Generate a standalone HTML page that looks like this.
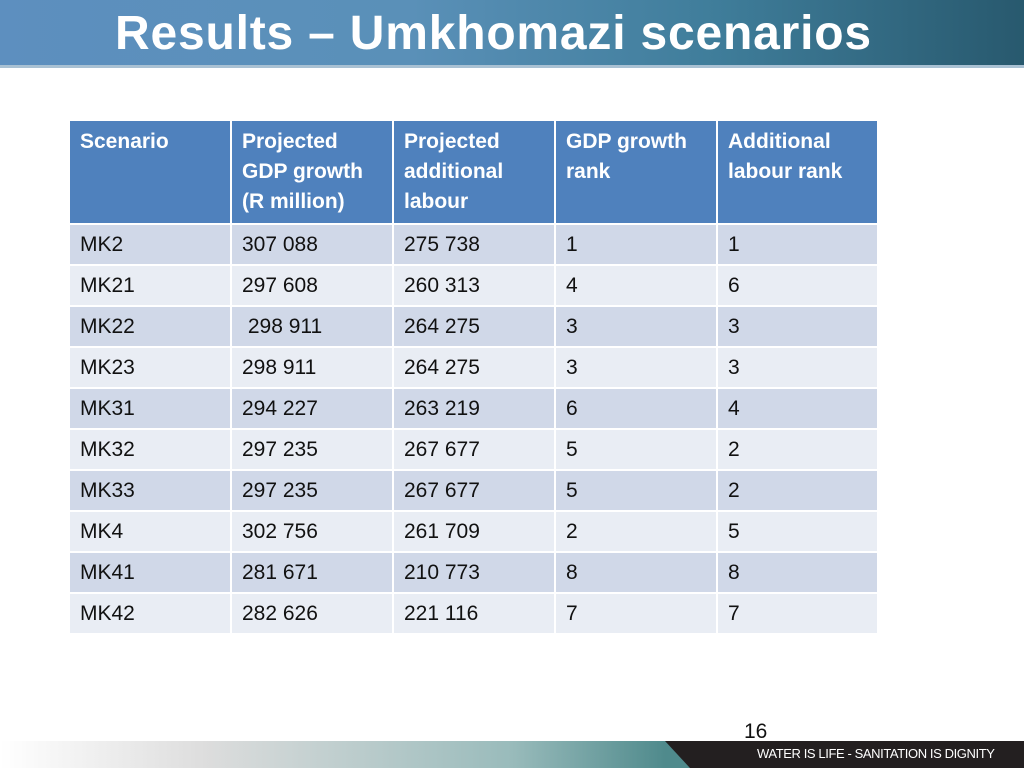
<!DOCTYPE html>
<html><head><meta charset="utf-8"><style>
body{margin:0;width:1024px;height:768px;position:relative;overflow:hidden;background:#fff;font-family:"Liberation Sans",sans-serif}
#hdr{position:absolute;left:0;top:0;width:1024px;height:68px;background:linear-gradient(90deg,#5d8fbf 0%,#5a90b8 40%,#3f7d9a 70%,#28596e 100%)}
#hdr::after{content:"";position:absolute;left:0;right:0;bottom:0;height:3px;background:#a9c1d3}
#title{position:absolute;left:115px;top:6px;font-size:48px;font-weight:bold;color:#fff;letter-spacing:0.8px;white-space:nowrap}
table{position:absolute;left:70px;top:121px;border-collapse:collapse;font-size:21px}
td{padding:0 0 0 10px;border:2px solid #fff;vertical-align:middle;height:39px;color:#111}
tr.h td{background:#4f81bd;color:#fff;font-weight:bold;height:96px;vertical-align:top;padding-top:6px;line-height:30px;border-top:0}
td:first-child{border-left:0}
tr.a td{background:#d0d8e8}
tr.b td{background:#e9edf4}
#footer{position:absolute;left:0;top:741px;width:1024px;height:27px;background:linear-gradient(90deg,#fff 0%,#ddd 20%,#9bb 50%,#4f8a8c 65%)}
#fdark{position:absolute;left:665px;top:741px;width:359px;height:27px;background:#231f20;clip-path:polygon(0 0,100% 0,100% 100%,25px 100%)}
#ftext{position:absolute;left:757px;top:746px;color:#fff;font-size:13px;letter-spacing:-0.4px;white-space:nowrap}
#pnum{position:absolute;left:744px;top:720px;font-size:21px;color:#111}
</style></head><body>
<div id="hdr"><div id="title">Results – Umkhomazi scenarios</div></div>
<table>
<colgroup><col style="width:161px"><col style="width:162px"><col style="width:162px"><col style="width:162px"><col style="width:161px"></colgroup>
<tr class="h"><td>Scenario</td><td>Projected<br>GDP growth<br>(R million)</td><td>Projected<br>additional<br>labour</td><td>GDP growth<br>rank</td><td>Additional<br>labour rank</td></tr>
<tr class="a"><td>MK2</td><td>307 088</td><td>275 738</td><td>1</td><td>1</td></tr>
<tr class="b"><td>MK21</td><td>297 608</td><td>260 313</td><td>4</td><td>6</td></tr>
<tr class="a"><td>MK22</td><td>&nbsp;298 911</td><td>264 275</td><td>3</td><td>3</td></tr>
<tr class="b"><td>MK23</td><td>298 911</td><td>264 275</td><td>3</td><td>3</td></tr>
<tr class="a"><td>MK31</td><td>294 227</td><td>263 219</td><td>6</td><td>4</td></tr>
<tr class="b"><td>MK32</td><td>297 235</td><td>267 677</td><td>5</td><td>2</td></tr>
<tr class="a"><td>MK33</td><td>297 235</td><td>267 677</td><td>5</td><td>2</td></tr>
<tr class="b"><td>MK4</td><td>302 756</td><td>261 709</td><td>2</td><td>5</td></tr>
<tr class="a"><td>MK41</td><td>281 671</td><td>210 773</td><td>8</td><td>8</td></tr>
<tr class="b"><td>MK42</td><td>282 626</td><td>221 116</td><td>7</td><td>7</td></tr>
</table>
<div id="pnum">16</div>
<div id="footer"></div>
<div id="fdark"></div>
<div id="ftext">WATER IS LIFE - SANITATION IS DIGNITY</div>
</body></html>
